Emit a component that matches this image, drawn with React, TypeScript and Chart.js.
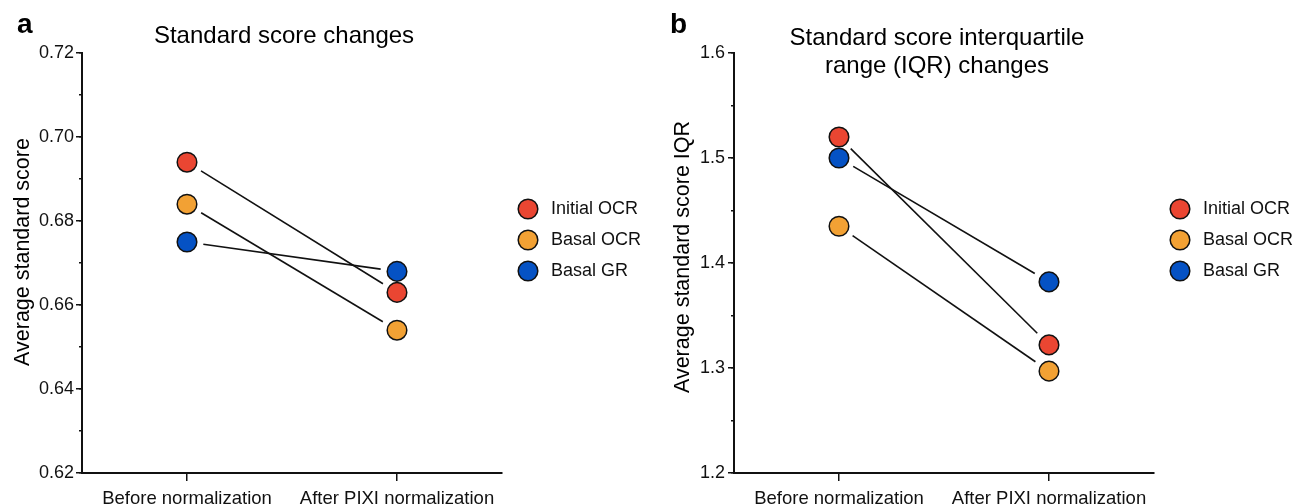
import React, { useEffect, useRef } from "react";
import { Chart, registerables } from "chart.js";

Chart.register(...registerables);

const FONT = '"Liberation Sans", Arial, Helvetica, sans-serif';
Chart.defaults.font.family = FONT;

// ---------- data ----------
const categories = ["Before normalization", "After PIXI normalization"];
const seriesNames = ["Initial OCR", "Basal OCR", "Basal GR"];
const seriesColors = ["#EA4632", "#F2A134", "#0552C4"];

// panel a: average standard score
const scoreInitialOCR = [0.694, 0.663];
const scoreBasalOCR = [0.684, 0.654];
const scoreBasalGR = [0.675, 0.668];
const scoreAxis = { min: 0.62, max: 0.72, major: 0.02, minor: 0.01, decimals: 2 };

// panel b: average standard score IQR
const iqrInitialOCR = [1.52, 1.322];
const iqrBasalOCR = [1.435, 1.297];
const iqrBasalGR = [1.5, 1.382];
const iqrAxis = { min: 1.2, max: 1.6, major: 0.1, minor: 0.05, decimals: 1 };

const panelATitle = ["Standard score changes"];
const panelBTitle = ["Standard score interquartile", "range (IQR) changes"];
const panelAYTitle = "Average standard score";
const panelBYTitle = "Average standard score IQR";

// ---------- plugins ----------
const pairLinesPlugin = {
  id: "pairLines",
  beforeDatasetsDraw(chart: any) {
    const ctx = chart.ctx;
    const gap = 16.5;
    ctx.save();
    ctx.strokeStyle = "#111";
    ctx.lineWidth = 1.6;
    chart.data.datasets.forEach((_ds: any, i: number) => {
      const pts = chart.getDatasetMeta(i).data;
      for (let k = 0; k + 1 < pts.length; k++) {
        const a = pts[k];
        const b = pts[k + 1];
        const dx = b.x - a.x;
        const dy = b.y - a.y;
        const len = Math.hypot(dx, dy);
        if (len <= 2 * gap) continue;
        const ux = dx / len;
        const uy = dy / len;
        ctx.beginPath();
        ctx.moveTo(a.x + ux * gap, a.y + uy * gap);
        ctx.lineTo(b.x - ux * gap, b.y - uy * gap);
        ctx.stroke();
      }
    });
    ctx.restore();
  },
};

const decorPlugin = {
  id: "decor",
  afterDraw(chart: any) {
    const o = chart.options.plugins.decor;
    if (!o) return;
    const ctx = chart.ctx;
    const area = chart.chartArea;
    ctx.save();
    ctx.fillStyle = "#000";
    // panel letter
    ctx.font = `bold 28px ${FONT}`;
    ctx.textAlign = "left";
    ctx.textBaseline = "alphabetic";
    ctx.fillText(o.letter, o.letterX, 33);
    // title
    ctx.font = `24px ${FONT}`;
    ctx.textAlign = "center";
    o.title.forEach((line: string, i: number) => {
      ctx.fillText(line, o.titleX, o.titleBaselines[i]);
    });
    // y axis title
    ctx.save();
    ctx.translate(o.yTitleX, o.yTitleY);
    ctx.rotate(-Math.PI / 2);
    ctx.font = `21.5px ${FONT}`;
    ctx.textAlign = "center";
    ctx.textBaseline = "middle";
    ctx.fillText(o.yTitle, 0, 0);
    ctx.restore();
    // legend
    const rows = [209, 240, 271];
    chart.data.datasets.forEach((ds: any, i: number) => {
      const cy = rows[i];
      const cx = area.right + 26;
      ctx.beginPath();
      ctx.arc(cx, cy, 9.8, 0, Math.PI * 2);
      ctx.fillStyle = ds.pointBackgroundColor;
      ctx.fill();
      ctx.lineWidth = 1.5;
      ctx.strokeStyle = "#111";
      ctx.stroke();
      ctx.fillStyle = "#111";
      ctx.font = `18px ${FONT}`;
      ctx.textAlign = "left";
      ctx.textBaseline = "middle";
      ctx.fillText(ds.label, area.right + 49, cy + 0.5);
    });
    ctx.restore();
  },
};

// ---------- config ----------
function buildConfig(p: any) {
  const ink = "#111";
  return {
    type: "line",
    data: {
      labels: categories,
      datasets: p.series.map((vals: number[], i: number) => ({
        label: seriesNames[i],
        data: vals,
        showLine: false,
        pointRadius: 9.8,
        pointHoverRadius: 9.8,
        pointBorderWidth: 1.5,
        pointHoverBorderWidth: 1.5,
        pointBackgroundColor: seriesColors[i],
        pointBorderColor: ink,
        borderColor: seriesColors[i],
        backgroundColor: seriesColors[i],
        clip: false,
      })),
    },
    options: {
      responsive: false,
      animation: false,
      devicePixelRatio: 1,
      events: [],
      layout: {
        autoPadding: false,
        padding: { top: 53, right: p.padRight, left: 0, bottom: 0 },
      },
      plugins: {
        legend: { display: false },
        tooltip: { enabled: false },
        title: { display: false },
        decor: p.decor,
      },
      scales: {
        x: {
          type: "category",
          position: "bottom",
          offset: true,
          grid: {
            offset: false,
            drawOnChartArea: false,
            drawTicks: true,
            tickLength: 8,
            color: ink,
            lineWidth: 1.5,
          },
          border: { display: true, color: ink, width: 2 },
          ticks: {
            color: ink,
            font: { size: 18.5 },
            padding: 7,
            autoSkip: false,
            maxRotation: 0,
          },
          afterFit: (s: any) => {
            s.height = 31;
          },
        },
        y: {
          type: "linear",
          position: "left",
          weight: 1,
          min: p.axis.min,
          max: p.axis.max,
          grid: {
            drawOnChartArea: false,
            drawTicks: true,
            tickLength: 6,
            color: ink,
            lineWidth: 1.5,
          },
          border: { display: true, color: ink, width: 2 },
          ticks: {
            stepSize: p.axis.major,
            color: ink,
            font: { size: 18 },
            padding: p.tickPad,
            autoSkip: false,
            callback: (v: any) => Number(v).toFixed(p.axis.decimals),
          },
          afterFit: (s: any) => {
            s.width = p.yWidth;
          },
        },
        yMinor: {
          type: "linear",
          position: "left",
          weight: 0,
          min: p.axis.min,
          max: p.axis.max,
          grid: {
            drawOnChartArea: false,
            drawTicks: true,
            tickLength: 3,
            color: ink,
            lineWidth: 1.5,
          },
          border: { display: false },
          ticks: { display: false, stepSize: p.axis.minor, autoSkip: false },
          afterFit: (s: any) => {
            s.width = 0;
          },
        },
      },
    },
    plugins: [pairLinesPlugin, decorPlugin],
  };
}

function Panel({ p, left }: { p: any; left: number }) {
  const ref = useRef<HTMLCanvasElement>(null);
  useEffect(() => {
    const chart = new Chart(ref.current as HTMLCanvasElement, buildConfig(p) as any);
    return () => chart.destroy();
  }, []);
  return (
    <canvas
      ref={ref}
      width={650}
      height={504}
      style={{ position: "absolute", left, top: 0, width: 650, height: 504 }}
    />
  );
}

const panelA = {
  series: [scoreInitialOCR, scoreBasalOCR, scoreBasalGR],
  axis: scoreAxis,
  yWidth: 82,
  padRight: 148,
  tickPad: 2,
  decor: {
    letter: "a",
    letterX: 17,
    title: panelATitle,
    titleX: 284,
    titleBaselines: [43],
    yTitle: panelAYTitle,
    yTitleX: 23,
    yTitleY: 252,
  },
};

const panelB = {
  series: [iqrInitialOCR, iqrBasalOCR, iqrBasalGR],
  axis: iqrAxis,
  yWidth: 84,
  padRight: 146,
  tickPad: 3,
  decor: {
    letter: "b",
    letterX: 20,
    title: panelBTitle,
    titleX: 287,
    titleBaselines: [45, 73],
    yTitle: panelBYTitle,
    yTitleX: 33,
    yTitleY: 257,
  },
};

export default function App() {
  return (
    <div
      style={{
        position: "fixed",
        left: 0,
        top: 0,
        width: 1300,
        height: 504,
        background: "#fff",
        overflow: "hidden",
      }}
    >
      <Panel p={panelA} left={0} />
      <Panel p={panelB} left={650} />
    </div>
  );
}
